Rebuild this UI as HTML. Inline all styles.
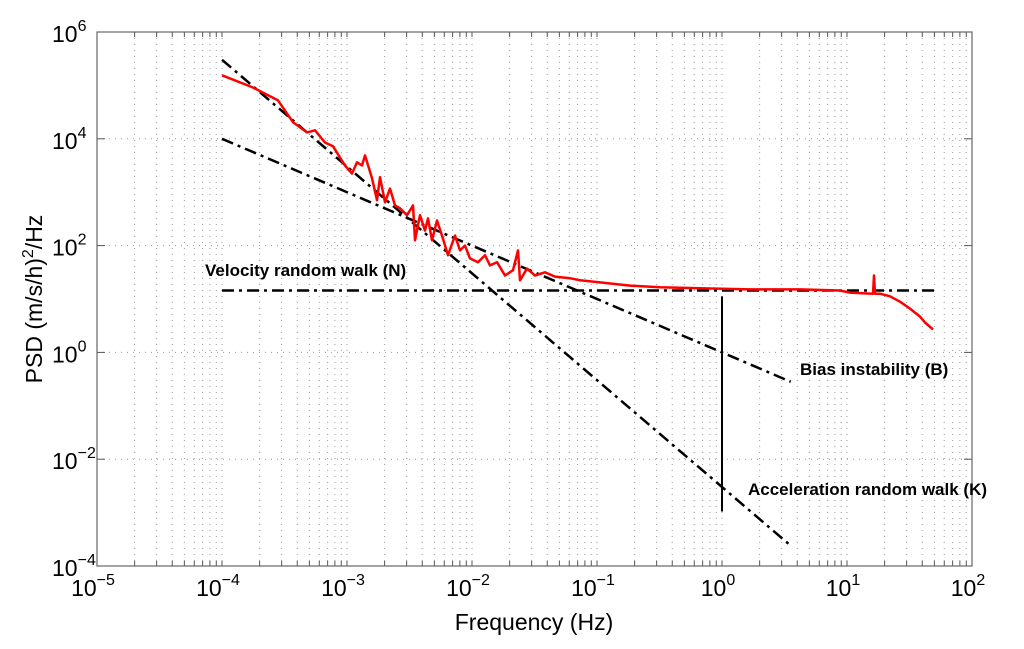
<!DOCTYPE html>
<html><head><meta charset="utf-8"><style>
html,body{margin:0;padding:0;background:#fff;}
svg{display:block;font-family:"Liberation Sans",Arial,sans-serif;}
</style></head><body>
<svg id="chart" width="1024" height="649" viewBox="0 0 1024 649" xmlns="http://www.w3.org/2000/svg">
<g id="grid"></g>
<g id="axes"></g>
<g id="series"></g>
<text x="534" y="630" font-size="23" text-anchor="middle">Frequency (Hz)</text>
<text transform="translate(42,299) rotate(-90)" font-size="23" text-anchor="middle">PSD (m/s/h)<tspan dy="-9" font-size="16">2</tspan><tspan dy="9">/Hz</tspan></text>
<text x="205" y="276" font-size="17" font-weight="bold">Velocity random walk (N)</text>
<text x="800" y="375" font-size="17" font-weight="bold">Bias instability (B)</text>
<text x="748" y="495" font-size="17" font-weight="bold">Acceleration random walk (K)</text>
</svg>
<script>
// data (log10 values)
const logFreq=[-4.0,-3.752,-3.552,-3.432,-3.32,-3.256,-3.176,-3.112,-3.016,-2.96,-2.92,-2.88,-2.856,-2.8,-2.76,-2.736,-2.696,-2.656,-2.616,-2.576,-2.52,-2.472,-2.456,-2.416,-2.376,-2.352,-2.32,-2.28,-2.232,-2.192,-2.136,-2.096,-2.056,-2.016,-1.952,-1.896,-1.856,-1.8,-1.736,-1.672,-1.632,-1.616,-1.56,-1.496,-1.416,-1.336,-1.216,-1.136,-0.976,-0.736,-0.496,-0.176,0.224,0.624,0.944,1.024,1.208,1.216,1.224,1.264,1.344,1.424,1.504,1.584,1.624,1.688];
const logPsd=[5.19,4.96,4.72,4.31,4.12,4.16,3.93,3.86,3.50,3.35,3.56,3.50,3.69,3.26,2.85,3.28,2.81,3.07,2.75,2.70,2.57,2.75,2.10,2.57,2.28,2.51,2.10,2.47,2.13,1.82,2.19,1.91,2.00,1.76,1.69,1.82,1.63,1.69,1.44,1.54,1.91,1.35,1.57,1.44,1.50,1.42,1.39,1.35,1.31,1.25,1.22,1.20,1.18,1.18,1.16,1.12,1.10,1.44,1.10,1.10,1.05,0.95,0.82,0.67,0.56,0.43];
const nLevelLog=1.16, nRange=[-4,1.7];
const bCoefLog=0, bRange=[-4,0.55];   // B/f
const kCoefLog=-2.52, kRange=[-4,0.55]; // K/f^2
const xTicks=[-5,-4,-3,-2,-1,0,1,2];
const yTicks=[-4,-2,0,2,4,6];
const vLine={x:0,y0:1.05,y1:-2.98};

const L=97,R=972,T=32,B=566;
const X=lf=>L+(lf+5)/7*(R-L);
const Y=lp=>B-(lp+4)/10*(B-T);
const NS="http://www.w3.org/2000/svg";
function mk(tag,attrs,parent){const e=document.createElementNS(NS,tag);for(const k in attrs)e.setAttribute(k,attrs[k]);parent.appendChild(e);return e;}
const grid=document.getElementById('grid'),axes=document.getElementById('axes'),ser=document.getElementById('series');
for(let d=-5;d<2;d++)for(let m=1;m<10;m++){const x=X(d+Math.log10(m));if(x<=L+1)continue;
 const l=mk('line',{x1:x,x2:x,y1:T,y2:B,stroke:'#999','stroke-width':1,'stroke-dasharray':'1 5'},grid);
 
 const t=mk('line',{x1:x,x2:x,y1:B,y2:B-5,stroke:'#555'},axes);
 
 const t2=mk('line',{x1:x,x2:x,y1:T,y2:T+5,stroke:'#555'},axes);
 }
yTicks.forEach(v=>{const y=Y(v);if(y>=B-1||y<=T+1)return;
 const l=mk('line',{x1:L,x2:R,y1:y,y2:y,stroke:'#999','stroke-width':1,'stroke-dasharray':'1 5'},grid);
 
 const t=mk('line',{x1:L,x2:L+8,y1:y,y2:y,stroke:'#555'},axes);
 
 const t2=mk('line',{x1:R-8,x2:R,y1:y,y2:y,stroke:'#555'},axes);
 });
const box=mk('rect',{x:L,y:T,width:R-L,height:B-T,fill:'none',stroke:'#666','stroke-width':1.2},axes);

xTicks.forEach(v=>{const t=mk('text',{x:X(v)-4,y:596,'font-size':23,'text-anchor':'middle'},axes);
 
 t.innerHTML='10<tspan dy="-11" font-size="16">'+(v<0?'\u2212'+(-v):v)+'</tspan>';});
yTicks.forEach(v=>{const t=mk('text',{x:52,y:Y(v)+10,'font-size':23},axes);
 
 t.innerHTML='10<tspan dy="-11" font-size="16">'+(v<0?'\u2212'+(-v):v)+'</tspan>';});
const dash={stroke:'#000','stroke-width':2.5,'stroke-dasharray':'12 5 3 5',fill:'none'};
function ln(x1,y1,x2,y2,name){const l=mk('line',Object.assign({x1:X(x1),y1:Y(y1),x2:X(x2),y2:Y(y2)},dash),ser);
 }
ln(nRange[0],nLevelLog,nRange[1],nLevelLog,'n-asymptote-line');
ln(bRange[0],bCoefLog-bRange[0],bRange[1],bCoefLog-bRange[1],'b-asymptote-line');
ln(kRange[0],kCoefLog-2*kRange[0],kRange[1],kCoefLog-2*kRange[1],'k-asymptote-line');
const vl=mk('line',{x1:X(vLine.x),x2:X(vLine.x),y1:Y(vLine.y0),y2:Y(vLine.y1),stroke:'#000','stroke-width':2},ser);

const p=mk('polyline',{points:logFreq.map((f,i)=>X(f).toFixed(1)+','+Y(logPsd[i]).toFixed(1)).join(' '),fill:'none',stroke:'#f00','stroke-width':2.5,'stroke-linejoin':'round'},ser);

</script>
</body></html>
